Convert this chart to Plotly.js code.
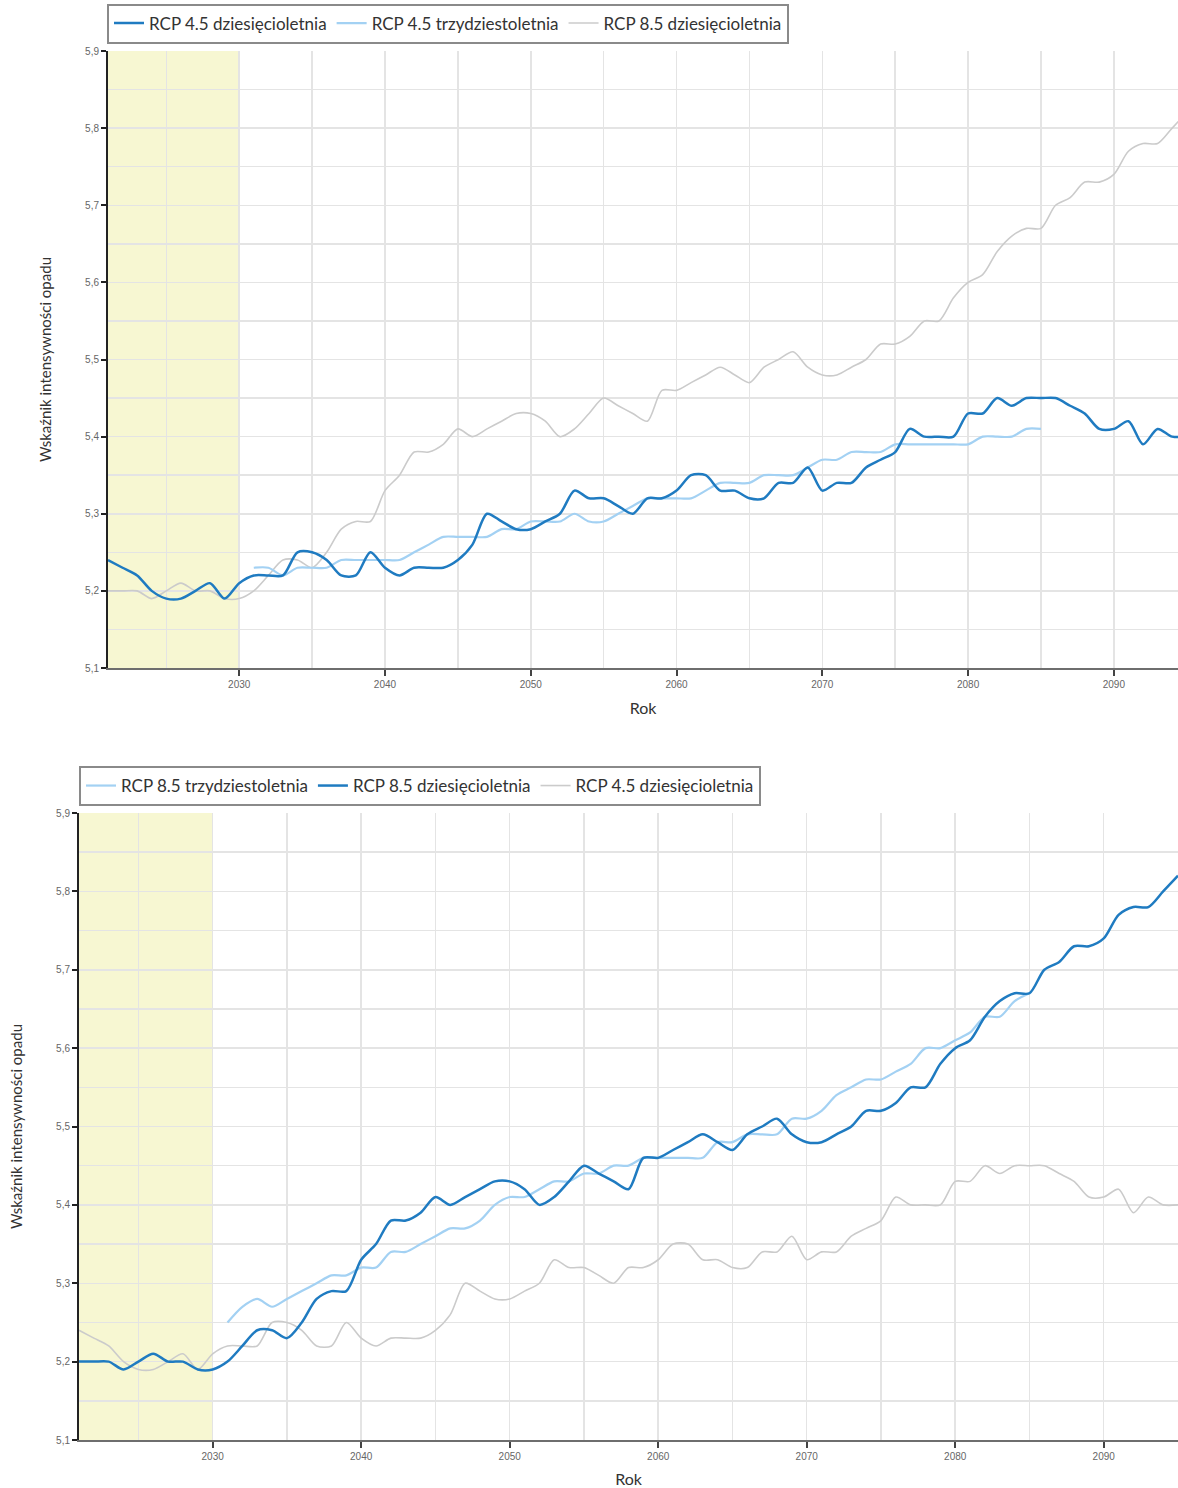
<!DOCTYPE html>
<html>
<head>
<meta charset="utf-8">
<script src="https://cdn.plot.ly/plotly-3.0.1.min.js"></script>
<style>html,body{margin:0;padding:0;background:#fff}#chart{width:1178px;height:1488px}</style>
</head>
<body>
<div id="chart"></div>
<script>
// Years 2021..2095 (decadal series) and 2031..2085 (thirty-year series)
const yearsFull = [2021,2022,2023,2024,2025,2026,2027,2028,2029,2030,2031,2032,2033,2034,2035,2036,2037,2038,2039,2040,
  2041,2042,2043,2044,2045,2046,2047,2048,2049,2050,2051,2052,2053,2054,2055,2056,2057,2058,2059,2060,
  2061,2062,2063,2064,2065,2066,2067,2068,2069,2070,2071,2072,2073,2074,2075,2076,2077,2078,2079,2080,
  2081,2082,2083,2084,2085,2086,2087,2088,2089,2090,2091,2092,2093,2094,2095];
const years30 = [2031,2032,2033,2034,2035,2036,2037,2038,2039,2040,
  2041,2042,2043,2044,2045,2046,2047,2048,2049,2050,2051,2052,2053,2054,2055,2056,2057,2058,2059,2060,
  2061,2062,2063,2064,2065,2066,2067,2068,2069,2070,2071,2072,2073,2074,2075,2076,2077,2078,2079,2080,
  2081,2082,2083,2084,2085];

const rcp45_10 = [5.24,5.23,5.22,5.20,5.19,5.19,5.20,5.21,5.19,5.21,5.22,5.22,5.22,5.25,5.25,5.24,5.22,5.22,5.25,5.23,
  5.22,5.23,5.23,5.23,5.24,5.26,5.30,5.29,5.28,5.28,5.29,5.30,5.33,5.32,5.32,5.31,5.30,5.32,5.32,5.33,
  5.35,5.35,5.33,5.33,5.32,5.32,5.34,5.34,5.36,5.33,5.34,5.34,5.36,5.37,5.38,5.41,5.40,5.40,5.40,5.43,
  5.43,5.45,5.44,5.45,5.45,5.45,5.44,5.43,5.41,5.41,5.42,5.39,5.41,5.40,5.40];
const rcp45_30 = [5.23,5.23,5.22,5.23,5.23,5.23,5.24,5.24,5.24,5.24,
  5.24,5.25,5.26,5.27,5.27,5.27,5.27,5.28,5.28,5.29,5.29,5.29,5.30,5.29,5.29,5.30,5.31,5.32,5.32,5.32,
  5.32,5.33,5.34,5.34,5.34,5.35,5.35,5.35,5.36,5.37,5.37,5.38,5.38,5.38,5.39,5.39,5.39,5.39,5.39,5.39,
  5.40,5.40,5.40,5.41,5.41];
const rcp85_10 = [5.20,5.20,5.20,5.19,5.20,5.21,5.20,5.20,5.19,5.19,5.20,5.22,5.24,5.24,5.23,5.25,5.28,5.29,5.29,5.33,
  5.35,5.38,5.38,5.39,5.41,5.40,5.41,5.42,5.43,5.43,5.42,5.40,5.41,5.43,5.45,5.44,5.43,5.42,5.46,5.46,
  5.47,5.48,5.49,5.48,5.47,5.49,5.50,5.51,5.49,5.48,5.48,5.49,5.50,5.52,5.52,5.53,5.55,5.55,5.58,5.60,
  5.61,5.64,5.66,5.67,5.67,5.70,5.71,5.73,5.73,5.74,5.77,5.78,5.78,5.80,5.82];
const rcp85_30 = [5.25,5.27,5.28,5.27,5.28,5.29,5.30,5.31,5.31,5.32,
  5.32,5.34,5.34,5.35,5.36,5.37,5.37,5.38,5.40,5.41,5.41,5.42,5.43,5.43,5.44,5.44,5.45,5.45,5.46,5.46,
  5.46,5.46,5.46,5.48,5.48,5.49,5.49,5.49,5.51,5.51,5.52,5.54,5.55,5.56,5.56,5.57,5.58,5.60,5.60,5.61,
  5.62,5.64,5.64,5.66,5.67];

const names = {
  r45_10: 'RCP 4.5 dziesięcioletnia',
  r45_30: 'RCP 4.5 trzydziestoletnia',
  r85_10: 'RCP 8.5 dziesięcioletnia',
  r85_30: 'RCP 8.5 trzydziestoletnia'
};
const baseEnd = 2030;

const DARK = '#1f7bc1', LIGHT = '#a3d1f3', GRAY = '#cbcbcb';
const sm = 0.8;
function tr(x, y, name, color, width, xa, ya, leg, rank) {
  return {x: x, y: y, name: name, type: 'scatter', mode: 'lines',
    line: {color: color, width: width, shape: 'spline', smoothing: sm},
    xaxis: xa, yaxis: ya, legend: leg, legendrank: rank, hoverinfo: 'skip'};
}

const data = [
  // top chart
  tr(yearsFull, rcp85_10, names.r85_10, GRAY, 1.6, 'x', 'y', 'legend', 3),
  tr(years30, rcp45_30, names.r45_30, LIGHT, 2.2, 'x', 'y', 'legend', 2),
  tr(yearsFull, rcp45_10, names.r45_10, DARK, 2.5, 'x', 'y', 'legend', 1),
  // bottom chart
  tr(yearsFull, rcp45_10, names.r45_10, GRAY, 1.6, 'x2', 'y2', 'legend2', 3),
  tr(years30, rcp85_30, names.r85_30, LIGHT, 2.2, 'x2', 'y2', 'legend2', 1),
  tr(yearsFull, rcp85_10, names.r85_10, DARK, 2.5, 'x2', 'y2', 'legend2', 2)
];

const W = 1178, H = 1488;
function xax(domain, range, anchor) {
  return {domain: domain, range: range, anchor: anchor,
    tick0: 2020, dtick: 10, showgrid: true, gridcolor: '#e4e4e4', gridwidth: 1.5,
    minor: {tick0: 2020, dtick: 5, showgrid: true, gridcolor: '#e4e4e4', gridwidth: 1.5},
    showline: true, linecolor: '#6e6e6e', linewidth: 2,
    ticks: 'outside', ticklen: 6, tickwidth: 2, tickcolor: '#444',
    tickfont: {family: 'Liberation Sans, Arial, sans-serif', size: 10, color: '#666'},
    zeroline: false, fixedrange: true,
    title: {text: 'Rok', font: {family: 'Lato, sans-serif', size: 16, color: '#333'}, standoff: 14}};
}
function yax(domain, anchor) {
  return {domain: domain, range: [5.1, 5.9], anchor: anchor,
    tick0: 5.1, dtick: 0.1, tickformat: '.1f', showgrid: true, gridcolor: '#e4e4e4', gridwidth: 1.5,
    minor: {tick0: 5.1, dtick: 0.05, showgrid: true, gridcolor: '#e4e4e4', gridwidth: 1.5},
    showline: true, linecolor: '#222', linewidth: 2,
    ticks: 'outside', ticklen: 5, tickwidth: 2, tickcolor: '#222',
    tickfont: {family: 'Liberation Sans, Arial, sans-serif', size: 10, color: '#666'},
    zeroline: false, fixedrange: true,
    title: {text: 'Wskaźnik intensywności opadu', font: {family: 'Lato, sans-serif', size: 15, color: '#333'}, standoff: 30}};
}
const legFont = {family: 'Lato, sans-serif', size: 17, color: '#333'};
const layout = {
  width: W, height: H,
  margin: {l: 0, r: 0, t: 0, b: 0},
  paper_bgcolor: '#fff', plot_bgcolor: 'rgba(0,0,0,0)',
  separators: ', ',
  showlegend: true,
  xaxis: xax([108 / W, 1], [2021, 2094.4], 'y'),
  yaxis: yax([1 - 668 / H, 1 - 51 / H], 'x'),
  xaxis2: xax([79 / W, 1], [2021, 2095], 'y2'),
  yaxis2: yax([1 - 1440 / H, 1 - 813 / H], 'x2'),
  legend: {orientation: 'h', x: 107 / W, y: 1 - 23.5 / H, xanchor: 'left', yanchor: 'middle',
    bordercolor: '#8a8a8a', borderwidth: 2, bgcolor: '#fff', font: legFont, itemwidth: 30,
    traceorder: 'normal'},
  legend2: {orientation: 'h', x: 79 / W, y: 1 - 786 / H, xanchor: 'left', yanchor: 'middle',
    bordercolor: '#8a8a8a', borderwidth: 2, bgcolor: '#fff', font: legFont, itemwidth: 30,
    traceorder: 'normal'},
  shapes: [
    {type: 'rect', xref: 'x', yref: 'y domain', x0: 2021, x1: baseEnd, y0: 0, y1: 1,
      fillcolor: '#f7f7d2', line: {width: 0}, layer: 'below'},
    {type: 'rect', xref: 'x2', yref: 'y2 domain', x0: 2021, x1: baseEnd, y0: 0, y1: 1,
      fillcolor: '#f7f7d2', line: {width: 0}, layer: 'below'}
  ]
};
Plotly.newPlot('chart', data, layout, {displayModeBar: false, staticPlot: true});
</script>
</body>
</html>
